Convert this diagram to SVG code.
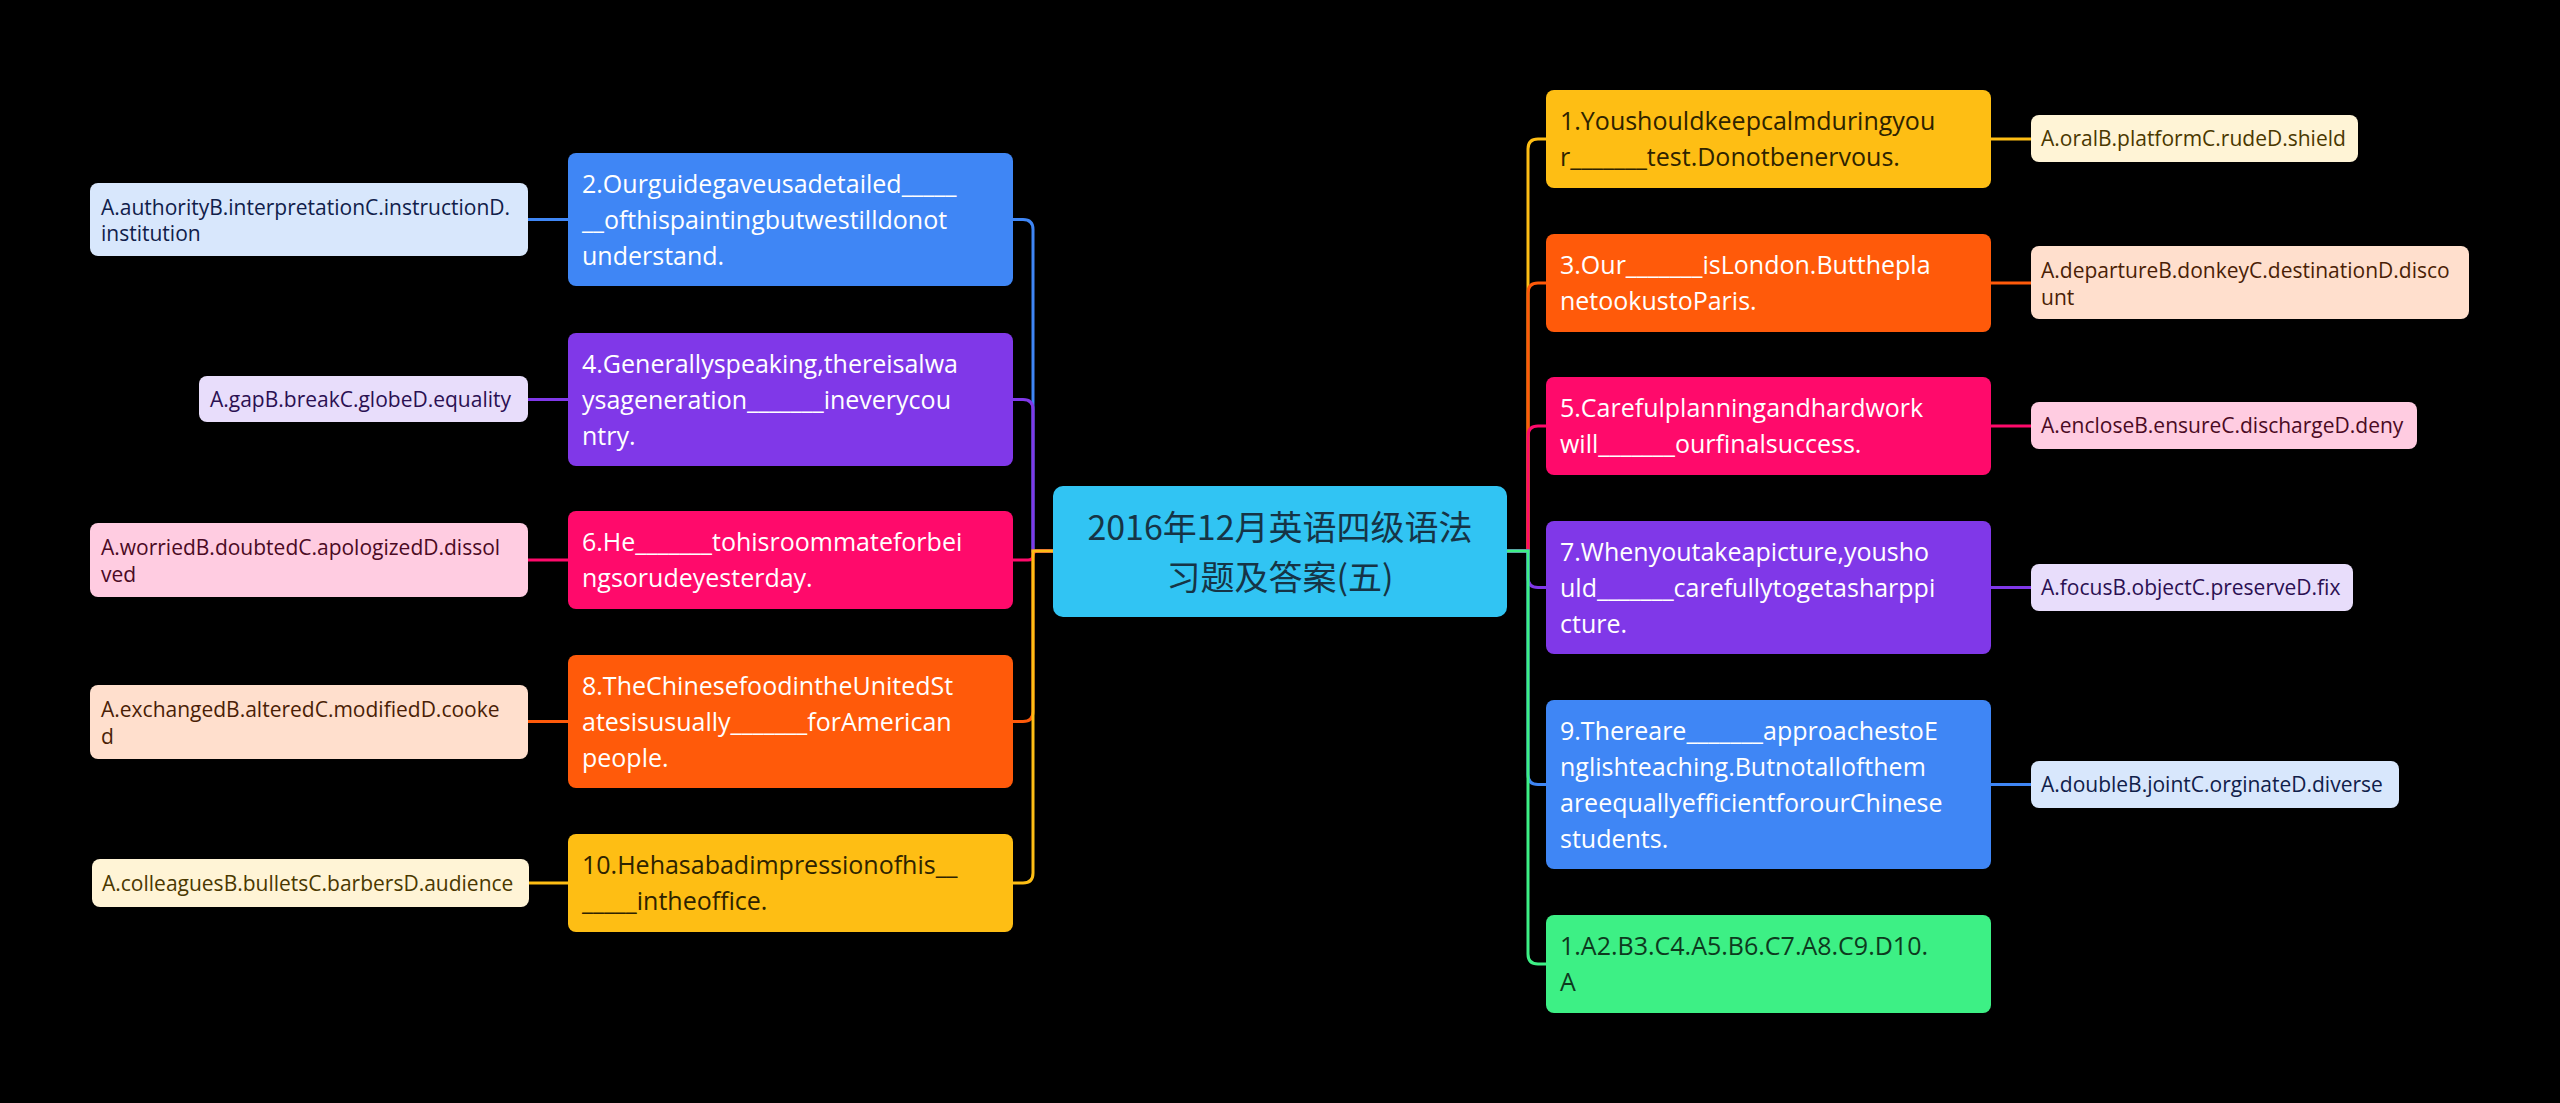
<svg xmlns="http://www.w3.org/2000/svg" width="2560" height="1103" viewBox="0 0 2560 1103">
<style>
.bg{fill:#000}
.c{fill:none;stroke-width:3;stroke-linecap:round}
.t{font-family:"Open Sans","Noto Sans CJK SC",sans-serif;font-size:25px}
.lt{font-family:"Open Sans","Noto Sans CJK SC",sans-serif;font-size:21px}
.title{font-family:"Noto Sans CJK SC","Open Sans",sans-serif;font-size:34px;fill:#163446;text-anchor:middle}
.w{fill:#fff}
.dk{fill:#2e2300}
.gk{fill:#0d3a1e}
</style>
<rect class="bg" x="0" y="0" width="2560" height="1103"/>
<g id="connectors">
<path class="c" stroke="#3F86F5" d="M1053,551 H1033 V229.5 Q1033,219.5 1023,219.5 H1013"/>
<path class="c" stroke="#8038E8" d="M1053,551 H1033 V409.5 Q1033,399.5 1023,399.5 H1013"/>
<path class="c" stroke="#FF0A6B" d="M1053,551 H1038 Q1033,551 1033,555.5 Q1033,560 1028,560 H1013"/>
<path class="c" stroke="#FF5A0A" d="M1053,551 H1033 V711.5 Q1033,721.5 1023,721.5 H1013"/>
<path class="c" stroke="#FEBE14" d="M1053,551 H1033 V873 Q1033,883 1023,883 H1013"/>
<path class="c" stroke="#FEBE14" d="M1507,551 H1528 V149 Q1528,139 1538,139 H1546"/>
<path class="c" stroke="#FF5A0A" d="M1507,551 H1528 V293 Q1528,283 1538,283 H1546"/>
<path class="c" stroke="#FF0A6B" d="M1507,551 H1528 V436 Q1528,426 1538,426 H1546"/>
<path class="c" stroke="#8038E8" d="M1507,551 H1528 V577.5 Q1528,587.5 1538,587.5 H1546"/>
<path class="c" stroke="#3F86F5" d="M1507,551 H1528 V774.5 Q1528,784.5 1538,784.5 H1546"/>
<path class="c" stroke="#3DF085" d="M1507,551 H1528 V954 Q1528,964 1538,964 H1546"/>
<path class="c" stroke="#3F86F5" d="M528,219.5 H568"/>
<path class="c" stroke="#8038E8" d="M528,399.5 H568"/>
<path class="c" stroke="#FF0A6B" d="M528,560 H568"/>
<path class="c" stroke="#FF5A0A" d="M528,721.5 H568"/>
<path class="c" stroke="#FEBE14" d="M529,883 H568"/>
<path class="c" stroke="#FEBE14" d="M1991,139 H2031"/>
<path class="c" stroke="#FF5A0A" d="M1991,283 H2031"/>
<path class="c" stroke="#FF0A6B" d="M1991,426 H2031"/>
<path class="c" stroke="#8038E8" d="M1991,587.5 H2031"/>
<path class="c" stroke="#3F86F5" d="M1991,784.5 H2031"/>
</g>
<g id="center">
<rect x="1053" y="486" width="454" height="131" rx="10" fill="#31C4F3"/>
<text class="title"><tspan x="1280" y="540">2016年12月英语四级语法</tspan><tspan x="1280" y="590">习题及答案(五)</tspan></text>
</g>
<g id="n2">
<rect x="568" y="153" width="445" height="133" rx="8" fill="#3F86F5"/>
<text class="t w" x="582" y="193">2.Ourguidegaveusadetailed_____</text>
<text class="t w" x="582" y="229">__ofthispaintingbutwestilldonot</text>
<text class="t w" x="582" y="265">understand.</text>
</g>
<g id="l2">
<rect x="90" y="183" width="438" height="73" rx="8" fill="#D8E7FC"/>
<text class="lt" fill="#10204A" x="101" y="215">A.authorityB.interpretationC.instructionD.</text>
<text class="lt" fill="#10204A" x="101" y="241">institution</text>
</g>
<g id="n4">
<rect x="568" y="333" width="445" height="133" rx="8" fill="#8038E8"/>
<text class="t w" x="582" y="373">4.Generallyspeaking,thereisalwa</text>
<text class="t w" x="582" y="409">ysageneration_______ineverycou</text>
<text class="t w" x="582" y="445">ntry.</text>
</g>
<g id="l4">
<rect x="199" y="376" width="329" height="46" rx="8" fill="#E8DDFB"/>
<text class="lt" fill="#2B1052" x="210" y="407">A.gapB.breakC.globeD.equality</text>
</g>
<g id="n6">
<rect x="568" y="511" width="445" height="98" rx="8" fill="#FF0A6B"/>
<text class="t w" x="582" y="551">6.He_______tohisroommateforbei</text>
<text class="t w" x="582" y="587">ngsorudeyesterday.</text>
</g>
<g id="l6">
<rect x="90" y="523" width="438" height="74" rx="8" fill="#FFCCE1"/>
<text class="lt" fill="#4B0A24" x="101" y="555">A.worriedB.doubtedC.apologizedD.dissol</text>
<text class="lt" fill="#4B0A24" x="101" y="582">ved</text>
</g>
<g id="n8">
<rect x="568" y="655" width="445" height="133" rx="8" fill="#FF5A0A"/>
<text class="t w" x="582" y="695">8.TheChinesefoodintheUnitedSt</text>
<text class="t w" x="582" y="731">atesisusually_______forAmerican</text>
<text class="t w" x="582" y="767">people.</text>
</g>
<g id="l8">
<rect x="90" y="685" width="438" height="74" rx="8" fill="#FFDFCD"/>
<text class="lt" fill="#4A1E06" x="101" y="717">A.exchangedB.alteredC.modifiedD.cooke</text>
<text class="lt" fill="#4A1E06" x="101" y="744">d</text>
</g>
<g id="n10">
<rect x="568" y="834" width="445" height="98" rx="8" fill="#FEBE14"/>
<text class="t dk" x="582" y="874">10.Hehasabadimpressionofhis__</text>
<text class="t dk" x="582" y="910">_____intheoffice.</text>
</g>
<g id="l10">
<rect x="92" y="859" width="437" height="48" rx="8" fill="#FFF4D6"/>
<text class="lt" fill="#4A3800" x="102" y="891">A.colleaguesB.bulletsC.barbersD.audience</text>
</g>
<g id="n1">
<rect x="1546" y="90" width="445" height="98" rx="8" fill="#FEBE14"/>
<text class="t dk" x="1560" y="130">1.Youshouldkeepcalmduringyou</text>
<text class="t dk" x="1560" y="166">r_______test.Donotbenervous.</text>
</g>
<g id="r1">
<rect x="2031" y="115" width="327" height="47" rx="8" fill="#FFF4D6"/>
<text class="lt" fill="#4A3800" x="2041" y="146">A.oralB.platformC.rudeD.shield</text>
</g>
<g id="n3">
<rect x="1546" y="234" width="445" height="98" rx="8" fill="#FF5A0A"/>
<text class="t w" x="1560" y="274">3.Our_______isLondon.Butthepla</text>
<text class="t w" x="1560" y="310">netookustoParis.</text>
</g>
<g id="r3">
<rect x="2031" y="246" width="438" height="73" rx="8" fill="#FFDFCD"/>
<text class="lt" fill="#4A1E06" x="2041" y="278">A.departureB.donkeyC.destinationD.disco</text>
<text class="lt" fill="#4A1E06" x="2041" y="305">unt</text>
</g>
<g id="n5">
<rect x="1546" y="377" width="445" height="98" rx="8" fill="#FF0A6B"/>
<text class="t w" x="1560" y="417">5.Carefulplanningandhardwork</text>
<text class="t w" x="1560" y="453">will_______ourfinalsuccess.</text>
</g>
<g id="r5">
<rect x="2031" y="402" width="386" height="47" rx="8" fill="#FFCCE1"/>
<text class="lt" fill="#4B0A24" x="2041" y="433">A.encloseB.ensureC.dischargeD.deny</text>
</g>
<g id="n7">
<rect x="1546" y="521" width="445" height="133" rx="8" fill="#8038E8"/>
<text class="t w" x="1560" y="561">7.Whenyoutakeapicture,yousho</text>
<text class="t w" x="1560" y="597">uld_______carefullytogetasharppi</text>
<text class="t w" x="1560" y="633">cture.</text>
</g>
<g id="r7">
<rect x="2031" y="564" width="322" height="47" rx="8" fill="#E8DDFB"/>
<text class="lt" fill="#2B1052" x="2041" y="595">A.focusB.objectC.preserveD.fix</text>
</g>
<g id="n9">
<rect x="1546" y="700" width="445" height="169" rx="8" fill="#3F86F5"/>
<text class="t w" x="1560" y="740">9.Thereare_______approachestoE</text>
<text class="t w" x="1560" y="776">nglishteaching.Butnotallofthem</text>
<text class="t w" x="1560" y="812">areequallyefficientforourChinese</text>
<text class="t w" x="1560" y="848">students.</text>
</g>
<g id="r9">
<rect x="2031" y="761" width="368" height="47" rx="8" fill="#D8E7FC"/>
<text class="lt" fill="#10204A" x="2041" y="792">A.doubleB.jointC.orginateD.diverse</text>
</g>
<g id="ans">
<rect x="1546" y="915" width="445" height="98" rx="8" fill="#3DF085"/>
<text class="t gk" x="1560" y="955">1.A2.B3.C4.A5.B6.C7.A8.C9.D10.</text>
<text class="t gk" x="1560" y="991">A</text>
</g>
</svg>
